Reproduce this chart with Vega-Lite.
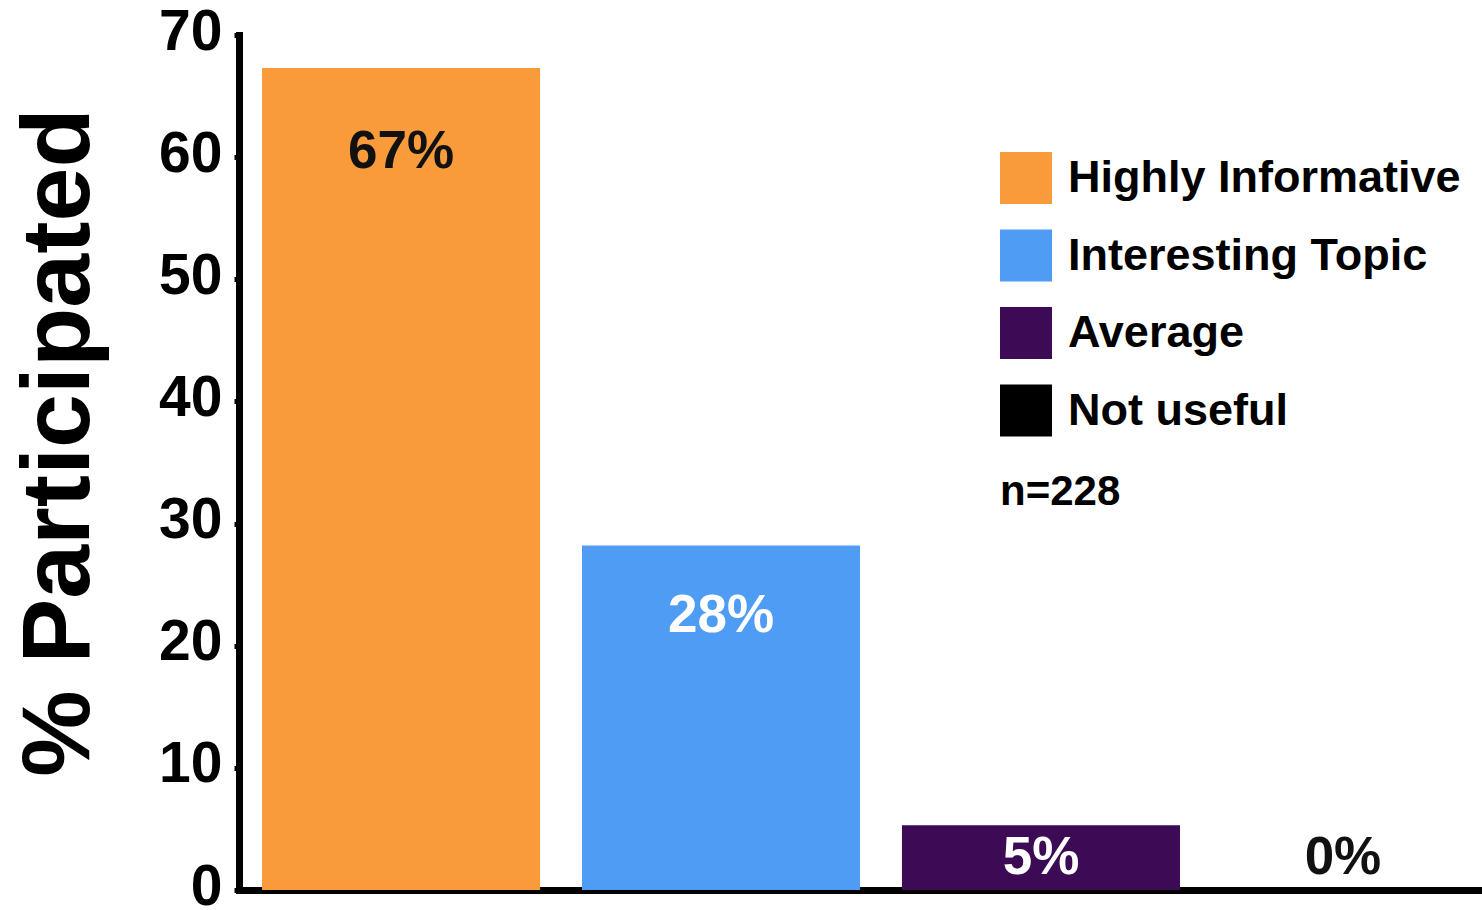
{
  "$schema": "https://vega.github.io/schema/vega-lite/v6.json",
  "autosize": "none",
  "width": 1284,
  "height": 855,
  "padding": {"left": 239, "top": 35, "right": 0, "bottom": 20},
  "background": "white",
  "config": {
    "font": "Liberation Sans",
    "view": {"stroke": null}
  },
  "data": {
    "values": [
      {"category": "Highly Informative", "value": 67.3, "label": "67%"},
      {"category": "Interesting Topic", "value": 28.2, "label": "28%"},
      {"category": "Average", "value": 5.3, "label": "5%"},
      {"category": "Not useful", "value": 0, "label": "0%"}
    ]
  },
  "encoding": {
    "x": {
      "field": "category",
      "type": "nominal",
      "sort": ["Highly Informative", "Interesting Topic", "Average", "Not useful"],
      "scale": {"paddingInner": 0.131, "paddingOuter": 0.072},
      "axis": {
        "title": null,
        "labels": false,
        "ticks": false,
        "domainColor": "black",
        "domainWidth": 7,
        "domainCap": "square"
      }
    }
  },
  "layer": [
    {
      "mark": {"type": "bar"},
      "encoding": {
        "y": {
          "field": "value",
          "type": "quantitative",
          "scale": {"domain": [0, 70], "nice": false},
          "axis": {
            "title": "% Participated",
            "titleFontSize": 97,
            "titleFontWeight": "bold",
            "titleColor": "black",
            "titlePadding": 50,
            "titleY": 407,
            "values": [0, 10, 20, 30, 40, 50, 60, 70],
            "labelFontSize": 57,
            "labelFontWeight": "bold",
            "labelColor": "black",
            "labelPadding": 12,
            "labelOffset": -3,
            "tickSize": 5,
            "tickWidth": 5,
            "tickColor": "black",
            "domainColor": "black",
            "domainWidth": 7,
            "domainCap": "square",
            "grid": false
          }
        },
        "color": {
          "field": "category",
          "type": "nominal",
          "scale": {
            "domain": ["Highly Informative", "Interesting Topic", "Average", "Not useful"],
            "range": ["#F99B3B", "#4F9CF5", "#3D0A55", "#000000"]
          },
          "legend": {
            "orient": "none",
            "legendX": 761,
            "legendY": 117,
            "title": "n=228",
            "titleOrient": "bottom",
            "titleAnchor": "start",
            "titleFontSize": 42,
            "titleFontWeight": "bold",
            "titleColor": "black",
            "titlePadding": 35,
            "symbolType": "square",
            "symbolSize": 2704,
            "symbolStrokeWidth": 0,
            "symbolOpacity": 1,
            "labelFontSize": 45,
            "labelFontWeight": "bold",
            "labelColor": "black",
            "labelOffset": 16,
            "labelLimit": 600,
            "rowPadding": 25.5,
            "padding": 0
          }
        }
      }
    },
    {
      "transform": [{"filter": "datum.category === 'Highly Informative'"}],
      "mark": {"type": "text", "fontSize": 53, "fontWeight": "bold", "baseline": "middle", "dy": 84, "color": "#111111"},
      "encoding": {"y": {"field": "value", "type": "quantitative"}, "text": {"field": "label"}}
    },
    {
      "transform": [{"filter": "datum.category === 'Interesting Topic'"}],
      "mark": {"type": "text", "fontSize": 53, "fontWeight": "bold", "baseline": "middle", "dy": 70, "color": "white"},
      "encoding": {"y": {"field": "value", "type": "quantitative"}, "text": {"field": "label"}}
    },
    {
      "transform": [{"filter": "datum.category === 'Average'"}],
      "mark": {"type": "text", "fontSize": 53, "fontWeight": "bold", "baseline": "middle", "dy": -32, "color": "white"},
      "encoding": {"y": {"datum": 0, "type": "quantitative"}, "text": {"field": "label"}}
    },
    {
      "transform": [{"filter": "datum.category === 'Not useful'"}],
      "mark": {"type": "text", "fontSize": 53, "fontWeight": "bold", "baseline": "middle", "dy": -32, "dx": -18, "color": "#111111"},
      "encoding": {"y": {"datum": 0, "type": "quantitative"}, "text": {"field": "label"}}
    }
  ]
}
